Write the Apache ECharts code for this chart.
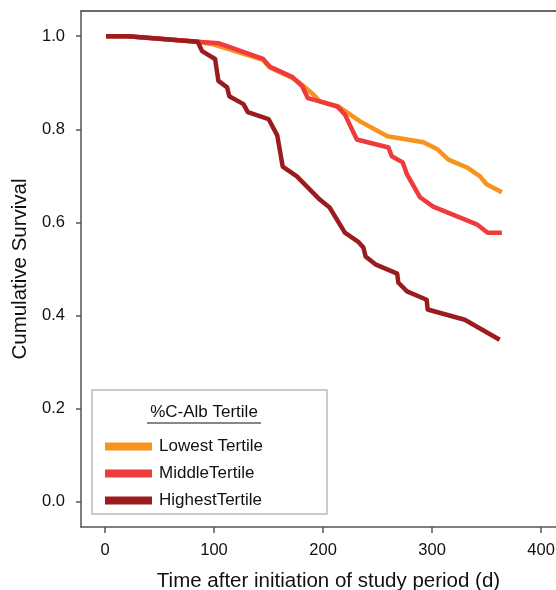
<!DOCTYPE html>
<html>
<head>
<meta charset="utf-8">
<script src="https://cdn.jsdelivr.net/npm/echarts@6/dist/echarts.min.js"></script>
<style>
  html, body { margin: 0; padding: 0; background: #fff; }
  #main { width: 556px; height: 590px; }
</style>
</head>
<body>
<div id="main"></div>
<script>
'use strict'

// survival curves, [day, cumulative survival]
const lowestTertile = [
    [1, 1.0], [21, 1.0], [85, 0.988], [100, 0.982], [145, 0.949], [151, 0.933],
    [172, 0.910], [179, 0.899], [190, 0.877], [197, 0.860], [214, 0.849],
    [234, 0.817], [259, 0.785], [292, 0.772], [305, 0.757], [315, 0.735],
    [332, 0.718], [344, 0.699], [350, 0.682], [364, 0.665]
];
const middleTertile = [
    [1, 1.0], [21, 1.0], [85, 0.988], [104, 0.985], [145, 0.951], [151, 0.935],
    [172, 0.912], [181, 0.892], [186, 0.867], [197, 0.860], [213, 0.849],
    [220, 0.832], [231, 0.778], [260, 0.761], [263, 0.742], [273, 0.729],
    [277, 0.703], [289, 0.654], [301, 0.634], [341, 0.596], [351, 0.578],
    [364, 0.578]
];
const highestTertile = [
    [1, 1.0], [21, 1.0], [85, 0.988], [89, 0.968], [101, 0.951], [104, 0.904],
    [112, 0.890], [114, 0.871], [127, 0.854], [131, 0.837], [150, 0.822],
    [158, 0.787], [163, 0.720], [176, 0.699], [197, 0.649], [206, 0.632],
    [220, 0.578], [232, 0.559], [237, 0.546], [239, 0.527], [248, 0.510],
    [268, 0.490], [269, 0.471], [277, 0.452], [295, 0.434], [296, 0.413],
    [330, 0.391], [362, 0.348]
];
const seriesNames = ['Lowest Tertile', 'MiddleTertile', 'HighestTertile'];
const xTicks = [0, 100, 200, 300, 400];
const yTicks = [0, 0.2, 0.4, 0.6, 0.8, 1.0];

const font = "'Liberation Sans', Arial, sans-serif";
const colors = ['#F7941E', '#EE3B3B', '#9B1C1F'];

var myChart = echarts.init(document.getElementById('main'), null, { renderer: 'canvas' });

function lineSeries(name, data, color) {
    return {
        name: name,
        type: 'line',
        data: data,
        showSymbol: false,
        symbol: 'none',
        color: color,
        lineStyle: { width: 4.5, color: color, join: 'round' },
        animation: false
    };
}

// plot box runs past the right edge of the picture, so no right border shows
var option = {
    backgroundColor: '#fff',
    textStyle: { fontFamily: font },
    grid: { left: 81, top: 11, right: -20, bottom: 63, containLabel: false, outerBoundsMode: 'none' },
    xAxis: [{
        type: 'value',
        min: -22,
        max: 432,
        axisLine: { onZero: false, lineStyle: { color: '#555', width: 1.5 } },
        axisTick: { customValues: xTicks, length: 6, lineStyle: { color: '#555', width: 1.5 } },
        axisLabel: { customValues: xTicks, color: '#111', fontSize: 16.5, margin: 15, fontFamily: font },
        splitLine: { show: false },
        name: 'Time after initiation of study period (d)',
        nameLocation: 'middle',
        nameGap: 44,
        nameTextStyle: { color: '#111', fontSize: 20.5, fontFamily: font }
    }, {
        type: 'value',
        position: 'top',
        min: -22,
        max: 432,
        axisLine: { show: true, onZero: false, lineStyle: { color: '#6a6a6a', width: 2 } },
        axisTick: { show: false },
        axisLabel: { show: false },
        splitLine: { show: false }
    }],
    yAxis: {
        type: 'value',
        min: -0.054,
        max: 1.054,
        axisLine: { show: true, onZero: false, lineStyle: { color: '#555', width: 1.5 } },
        axisTick: { show: true, customValues: yTicks, length: 5, lineStyle: { color: '#555', width: 1.5 } },
        axisLabel: {
            customValues: yTicks, color: '#111', fontSize: 16.5, margin: 16, fontFamily: font,
            formatter: function (v) { return v.toFixed(1); }
        },
        splitLine: { show: false },
        name: 'Cumulative Survival',
        nameLocation: 'middle',
        nameGap: 49,
        nameTextStyle: { color: '#111', fontSize: 20.5, fontFamily: font }
    },
    legend: {
        data: seriesNames,
        orient: 'vertical',
        left: 100,
        top: 433,
        z: 10,
        icon: 'rect',
        itemWidth: 47,
        itemHeight: 8,
        itemGap: 10,
        selectedMode: false,
        textStyle: { color: '#111', fontSize: 17, fontFamily: font, padding: [0, 0, 0, 2] }
    },
    graphic: [{
        type: 'rect',
        shape: { x: 92, y: 390, width: 235, height: 124 },
        style: { fill: '#fff', stroke: '#bbb', lineWidth: 1.5 },
        z: 5
    }, {
        type: 'text',
        x: 204,
        y: 412,
        style: { text: '%C-Alb Tertile', font: '17px ' + font, fill: '#111', textAlign: 'center', textVerticalAlign: 'middle' },
        z: 6
    }, {
        type: 'line',
        shape: { x1: 147, y1: 423, x2: 261, y2: 423 },
        style: { stroke: '#111', lineWidth: 1 },
        z: 6
    }],
    series: [
        lineSeries(seriesNames[0], lowestTertile, colors[0]),
        lineSeries(seriesNames[1], middleTertile, colors[1]),
        lineSeries(seriesNames[2], highestTertile, colors[2])
    ]
};

myChart.setOption(option);
</script>
</body>
</html>
